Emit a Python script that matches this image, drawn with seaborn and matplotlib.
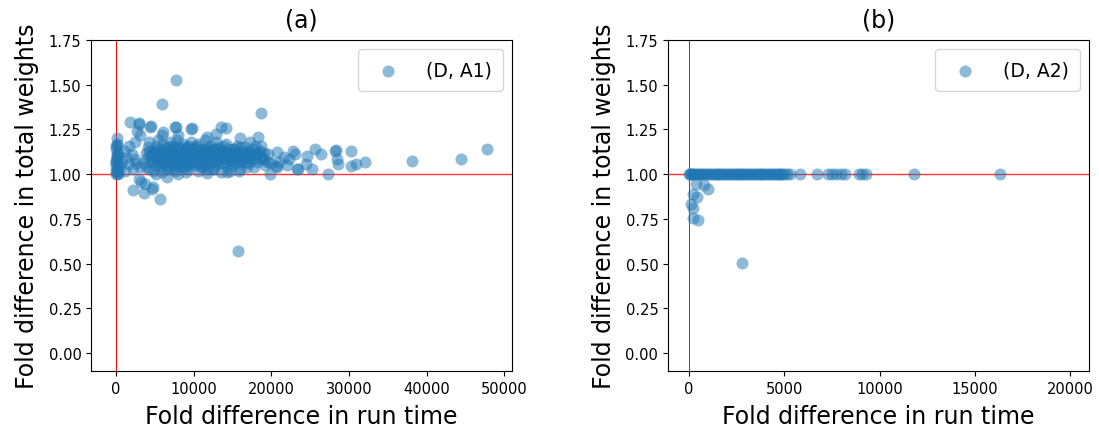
import matplotlib
matplotlib.use("Agg")
import matplotlib.pyplot as plt
import seaborn as sns
import pandas as pd

# panel (a): (D, A1)
run_a = [
    0, 50, 100, 150, 200, 0, 50, 100, 150, 200,
    0, 50, 100, 150, 200, 0, 50, 100, 150, 200,
    700, 1100, 1100, 1600, 1600, 1800, 2200, 2200, 2400, 2500,
    2700, 2900, 2900, 3100, 3100, 3200, 1300, 2000, 2600, 500,
    3600, 3700, 4600, 4800, 5600, 6500, 15700,
    7700, 5900, 18600, 4500, 7700, 9800, 13500, 14200, 6100, 5900,
    7600, 9700, 8000, 11700, 12900, 15900, 18300, 3000, 4400,
    17300, 17900, 18600, 19800, 20700, 20700, 20600, 21600, 22200, 22800,
    23000, 23300, 23400, 24400, 24600, 25200, 25600, 26400, 27300, 28200,
    28300, 28400, 28600, 30200, 30200, 30900, 32100, 38100, 44400, 47800,
    15800, 14300, 11700, 20000, 19000, 21000, 19500, 22000,
    3600, 3800, 4000, 4100, 4200, 4300, 4500, 4600, 4700, 4800,
    5000, 5100, 5200, 5300, 5400, 5500, 5600, 5700, 5800, 5900,
    6000, 6100, 6200, 6300, 6400, 6500, 6600, 6700, 6800, 6900,
    7000, 7100, 7200, 7300, 7400, 7500, 7600, 7700, 7800, 7900,
    8000, 8100, 8200, 8300, 8400, 8500, 8600, 8700, 8800, 8900,
    9000, 9100, 9200, 9300, 9400, 9500, 9600, 9700, 9800, 9900,
    10000, 10100, 10200, 10300, 10400, 10500, 10600, 10700, 10800, 10900,
    11000, 11100, 11200, 11300, 11400, 11500, 11600, 11700, 11800, 11900,
    12000, 12100, 12200, 12300, 12400, 12500, 12600, 12700, 12800, 12900,
    13000, 13200, 13400, 13600, 13800, 14000, 14200, 14400, 14600, 14800,
    15000, 15200, 15400, 15600, 15800, 16000, 16200, 16400, 16600, 16800,
    17000, 17200, 17400, 17600, 17800, 18000, 18200, 18500, 18800, 19200,
    4400, 5000, 5500, 6000, 6600, 7000, 7500, 8000, 8500, 9000,
    9500, 10000, 10500, 11000, 11500, 12000, 12500, 13000, 13500, 14000,
    14500, 15000, 15500, 16000, 16500, 17000, 17500, 18000, 6300, 8800,
    9000, 11700, 13500, 5200, 8000,
    5200, 5800, 6400, 6900, 7300, 7800, 8300, 8700, 9200, 9700,
    10200, 10600, 11100, 11600, 12100, 12600, 13100, 13600, 14100, 14600,
    15100, 15600, 16100, 16600, 17100, 17600, 18100, 18600, 19000, 19600,
    5400, 6100, 6700, 7200, 7900, 8400, 9100, 9600, 10300, 10800,
    11400, 12200, 12900, 13300, 13900, 14300, 14900, 15300, 15900, 16300,
    4900, 6800, 9300, 10900, 12600, 14700, 16900, 7400, 3900, 4300,
]
weights_a = [
    1.00, 1.01, 1.02, 1.03, 1.05, 1.06, 1.08, 1.09, 1.10, 1.12,
    1.14, 1.16, 1.17, 1.20, 1.00, 1.04, 1.07, 1.11, 1.165, 1.005,
    1.076, 1.02, 1.132, 1.058, 1.16, 1.29, 1.03, 0.909, 1.086, 1.179,
    1.243, 1.28, 0.974, 1.216, 1.04, 0.956, 1.09, 1.11, 1.06, 1.04,
    0.895, 0.947, 0.919, 0.928, 0.862, 0.984, 0.572,
    1.527, 1.392, 1.34, 1.268, 1.264, 1.257, 1.262, 1.257, 1.234, 1.216,
    1.262, 1.253, 1.216, 1.207, 1.225, 1.203, 1.21, 1.286, 1.262,
    1.179, 1.16, 1.16, 1.00, 1.123, 1.04, 1.048, 1.095, 1.086, 1.13,
    1.114, 1.03, 1.026, 1.054, 1.104, 1.03, 1.141, 1.115, 1.00, 1.13,
    1.134, 1.086, 1.056, 1.127, 1.048, 1.056, 1.067, 1.073, 1.082, 1.138,
    1.02, 1.012, 1.03, 1.06, 1.08, 1.07, 1.11, 1.05,
    1.06, 1.12, 1.09, 1.15, 1.03, 1.18, 1.07, 1.11, 1.13, 1.02,
    1.10, 1.16, 1.05, 1.08, 1.19, 1.12, 1.04, 1.14, 1.09, 1.01,
    1.11, 1.17, 1.06, 1.13, 1.08, 1.15, 1.03, 1.10, 1.12, 1.18,
    1.07, 1.14, 1.09, 1.05, 1.16, 1.11, 1.02, 1.13, 1.08, 1.19,
    1.10, 1.06, 1.15, 1.12, 1.04, 1.09, 1.17, 1.11, 1.07, 1.14,
    1.13, 1.08, 1.03, 1.16, 1.10, 1.12, 1.06, 1.18, 1.09, 1.14,
    1.11, 1.05, 1.15, 1.08, 1.12, 1.02, 1.17, 1.10, 1.07, 1.13,
    1.09, 1.14, 1.04, 1.11, 1.19, 1.08, 1.12, 1.06, 1.15, 1.10,
    1.13, 1.07, 1.16, 1.03, 1.11, 1.09, 1.14, 1.05, 1.12, 1.18,
    1.08, 1.15, 1.10, 1.06, 1.13, 1.09, 1.17, 1.04, 1.12, 1.08,
    1.14, 1.10, 1.06, 1.16, 1.11, 1.03, 1.13, 1.08, 1.15, 1.10,
    1.06, 1.12, 1.09, 1.14, 1.04, 1.11, 1.07, 1.13, 1.09, 1.05,
    1.10, 1.13, 1.07, 1.09, 1.12, 1.11, 1.09, 1.13, 1.11, 1.10,
    1.08, 1.14, 1.10, 1.12, 1.10, 1.09, 1.12, 1.11, 1.13, 1.12,
    1.10, 1.08, 1.12, 1.10, 1.12, 1.10, 1.08, 1.09, 1.05, 1.04,
    1.01, 1.005, 1.01, 1.00, 1.00,
    1.12, 1.06, 1.14, 1.09, 1.12, 1.15, 1.07, 1.13, 1.11, 1.07,
    1.12, 1.06, 1.09, 1.14, 1.11, 1.07, 1.14, 1.09, 1.06, 1.14,
    1.12, 1.09, 1.15, 1.07, 1.13, 1.11, 1.12, 1.10, 1.12, 1.07,
    1.09, 1.13, 1.07, 1.16, 1.05, 1.10, 1.15, 1.11, 1.16, 1.11,
    1.06, 1.13, 1.09, 1.06, 1.16, 1.11, 1.05, 1.14, 1.07, 1.11,
    1.08, 1.04, 1.05, 1.04, 1.03, 1.02, 1.04, 1.03, 1.04, 1.13,
]

# panel (b): (D, A2)
run_b = [
    0, 50, 100, 150, 200, 300, 400, 500, 600, 700,
    800, 900, 1000, 1100, 1200, 1300, 1400, 1500, 1600, 1700,
    1800, 1900, 2000, 2100, 2200, 2300, 2400, 2500, 2600, 2700,
    2800, 2900, 3000, 3100, 3200, 3300, 3400, 3500, 3600, 3700,
    3800, 3900, 4000, 4100, 4200, 4300, 4400, 4500, 4600, 4700,
    4800, 4900, 5000, 5150, 5300, 5800, 6700, 7300, 7500, 7700,
    8000, 8200, 8900, 9100, 9300, 11800, 16300,
    200, 100, 200, 200, 450, 400, 800, 1000, 350, 2800,
]
weights_b = [
    1.0, 1.0, 1.0, 1.0, 1.0, 1.0, 1.0, 1.0, 1.0, 1.0,
    1.0, 1.0, 1.0, 1.0, 1.0, 1.0, 1.0, 1.0, 1.0, 1.0,
    1.0, 1.0, 1.0, 1.0, 1.0, 1.0, 1.0, 1.0, 1.0, 1.0,
    1.0, 1.0, 1.0, 1.0, 1.0, 1.0, 1.0, 1.0, 1.0, 1.0,
    1.0, 1.0, 1.0, 1.0, 1.0, 1.0, 1.0, 1.0, 1.0, 1.0,
    1.0, 1.0, 1.0, 1.0, 1.0, 1.0, 1.0, 1.0, 1.0, 1.0,
    1.0, 1.0, 1.0, 1.0, 1.0, 1.0, 1.0,
    0.891, 0.835, 0.811, 0.755, 0.746, 0.872, 0.937, 0.915, 0.946, 0.501,
]

panels = [
    (run_a, weights_a, "(D, A1)", "(a)", (-3200, 51000)),
    (run_b, weights_b, "(D, A2)", "(b)", (-1100, 21000)),
]

fig, axes = plt.subplots(1, 2, figsize=(10.99, 4.31), dpi=100)
fig.subplots_adjust(left=0.083, right=0.991, bottom=0.137, top=0.905, wspace=0.37)

for ax, (xs, ys, label, title, xlim) in zip(axes, panels):
    df = pd.DataFrame({"run": xs, "weight": ys})
    ax.axhline(1.0, color="red", linewidth=1, alpha=0.8, zorder=1)
    ax.axvline(0, color="red", linewidth=0.7, zorder=1)
    sns.scatterplot(data=df, x="run", y="weight", ax=ax, s=75, alpha=0.5,
                    color="tab:blue", linewidth=0, label=label, zorder=2)
    ax.set_xlim(xlim)
    ax.set_ylim(-0.1, 1.75)
    ax.set_yticks([0.0, 0.25, 0.5, 0.75, 1.0, 1.25, 1.5, 1.75])
    ax.set_title(title, fontsize=17, pad=10)
    ax.set_xlabel("Fold difference in run time", fontsize=17, labelpad=6)
    ax.set_ylabel("Fold difference in total weights", fontsize=17, labelpad=7)
    ax.tick_params(labelsize=10.5)
    ax.legend(loc="upper right", fontsize=13.5, handletextpad=1.0, borderpad=0.6)

axes[1].set_xticks([0, 5000, 10000, 15000, 20000])
plt.savefig("out.png", dpi=100)
